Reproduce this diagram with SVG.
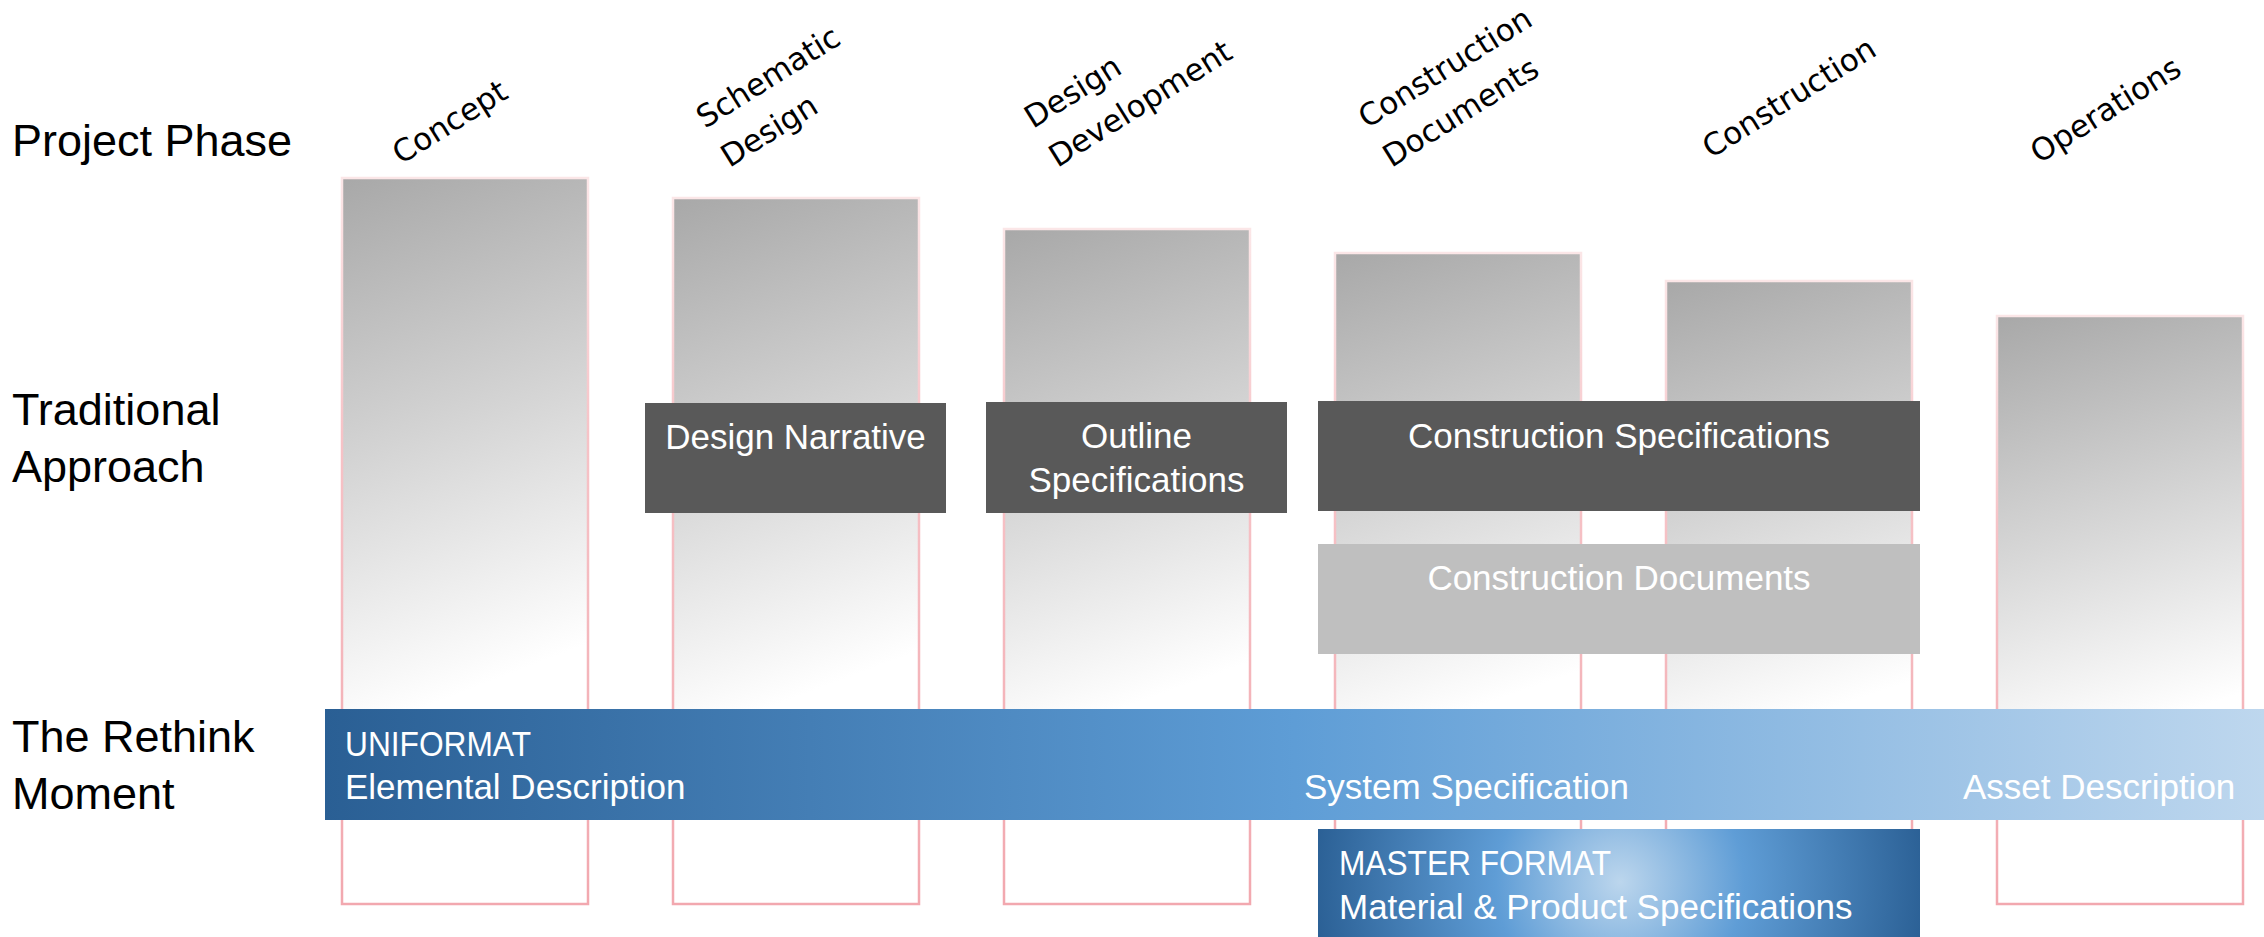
<svg xmlns="http://www.w3.org/2000/svg" width="2264" height="937" viewBox="0 0 2264 937">
  <defs>
    <!-- phase column fill: grey at the top fading to white -->
    <linearGradient id="colFill" x1="0" y1="0" x2="0.1" y2="0.76">
      <stop offset="0" stop-color="#a8a8a8"/>
      <stop offset="0.5" stop-color="#d3d3d3"/>
      <stop offset="1" stop-color="#ffffff"/>
    </linearGradient>
    <linearGradient id="colStroke" x1="0" y1="0" x2="0" y2="1">
      <stop offset="0" stop-color="#fbe6e7"/>
      <stop offset="0.35" stop-color="#f6c3c7"/>
      <stop offset="1" stop-color="#f2a8af"/>
    </linearGradient>
    <!-- rethink band: dark blue to pale blue -->
    <linearGradient id="bandFill" x1="325" y1="0" x2="2264" y2="0" gradientUnits="userSpaceOnUse">
      <stop offset="0" stop-color="#2a5f94"/>
      <stop offset="0.5" stop-color="#5e9dd6"/>
      <stop offset="1" stop-color="#bed7ee"/>
    </linearGradient>
    <radialGradient id="masterFill" cx="1620" cy="882" r="310" gradientUnits="userSpaceOnUse">
      <stop offset="0" stop-color="#bcd6ed"/>
      <stop offset="0.4" stop-color="#5f9dd6"/>
      <stop offset="1" stop-color="#2a5f94"/>
    </radialGradient>
    <style>
      .col { fill: url(#colFill); stroke: url(#colStroke); stroke-width: 2.5; }
      .rowLabel { font-family: "Liberation Sans", Arial, sans-serif; font-size: 45px; fill: #000000; }
      .phase { font-family: "DejaVu Sans", Verdana, sans-serif; font-size: 31px; fill: #000000; }
      .dark { fill: #595959; }
      .light { fill: #bfbfbf; }
      .boxText { font-family: "Liberation Sans", Arial, sans-serif; font-size: 35px; fill: #ffffff; text-anchor: middle; }
      .bandText { font-family: "Liberation Sans", Arial, sans-serif; font-size: 35px; fill: #ffffff; }
    </style>
  </defs>

  <rect width="2264" height="937" fill="#ffffff"/>

  <!-- row headings -->
  <g id="row-project-phase"><text class="rowLabel" x="12" y="156">Project Phase</text></g>
  <g id="row-traditional"><text class="rowLabel" x="12" y="425">Traditional<tspan x="12" y="482">Approach</tspan></text></g>
  <g id="row-rethink"><text class="rowLabel" x="12" y="752">The Rethink<tspan x="12" y="809">Moment</tspan></text></g>

  <!-- phase columns with their slanted titles -->
  <g id="phase-concept">
    <rect class="col" x="342" y="178" width="246" height="726"/>
    <text class="phase" transform="translate(401 165) rotate(-32)">Concept</text>
  </g>
  <g id="phase-schematic-design">
    <rect class="col" x="673" y="198" width="246" height="706"/>
    <text class="phase" transform="translate(705 129) rotate(-32)">Schematic<tspan x="0" dy="46">Design</tspan></text>
  </g>
  <g id="phase-design-development">
    <rect class="col" x="1004" y="229" width="246" height="675"/>
    <text class="phase" transform="translate(1033 129) rotate(-32)">Design<tspan x="0" dy="46">Development</tspan></text>
  </g>
  <g id="phase-construction-documents">
    <rect class="col" x="1335" y="253" width="246" height="651"/>
    <text class="phase" transform="translate(1367 129) rotate(-32)">Construction<tspan x="0" dy="46">Documents</tspan></text>
  </g>
  <g id="phase-construction">
    <rect class="col" x="1666" y="281" width="246" height="623"/>
    <text class="phase" transform="translate(1711 159) rotate(-32)">Construction</text>
  </g>
  <g id="phase-operations">
    <rect class="col" x="1997" y="316" width="246" height="588"/>
    <text class="phase" transform="translate(2039 164) rotate(-32)">Operations</text>
  </g>

  <!-- traditional deliverables -->
  <g id="design-narrative">
    <rect class="dark" x="645" y="403" width="301" height="110"/>
    <text class="boxText" x="795.5" y="449">Design Narrative</text>
  </g>
  <g id="outline-specifications">
    <rect class="dark" x="986" y="402" width="301" height="111"/>
    <text class="boxText" x="1136.5" y="448">Outline<tspan x="1136.5" y="492">Specifications</tspan></text>
  </g>
  <g id="construction-specifications">
    <rect class="dark" x="1318" y="401" width="602" height="110"/>
    <text class="boxText" x="1619" y="448">Construction Specifications</text>
  </g>
  <g id="construction-documents">
    <rect class="light" x="1318" y="544" width="602" height="110"/>
    <text class="boxText" x="1619" y="590">Construction Documents</text>
  </g>

  <!-- rethink band -->
  <g id="uniformat">
    <rect x="325" y="709" width="1939" height="111" fill="url(#bandFill)"/>
    <text class="bandText" x="345" y="756" textLength="186" lengthAdjust="spacingAndGlyphs">UNIFORMAT</text>
    <text class="bandText" x="345" y="799">Elemental Description</text>
    <text class="bandText" x="1304" y="799">System Specification</text>
    <text class="bandText" x="1963" y="799">Asset Description</text>
  </g>
  <g id="master-format">
    <rect x="1318" y="829" width="602" height="112" fill="url(#masterFill)"/>
    <text class="bandText" x="1339" y="875" textLength="272" lengthAdjust="spacingAndGlyphs">MASTER FORMAT</text>
    <text class="bandText" x="1339" y="919">Material &amp; Product Specifications</text>
  </g>
</svg>
